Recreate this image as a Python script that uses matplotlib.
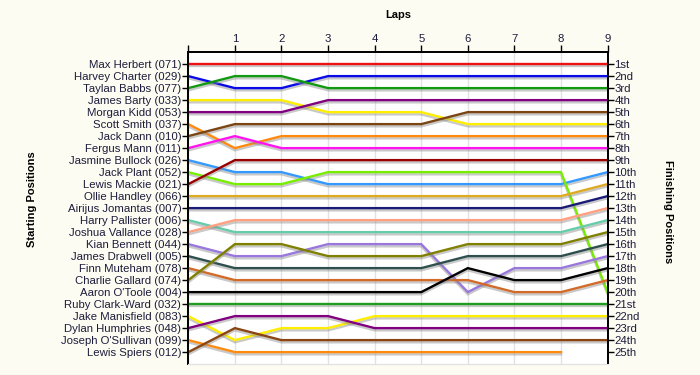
import numpy as np
import matplotlib
matplotlib.use("Agg")
import matplotlib.pyplot as plt
import matplotlib.patheffects as pe

# ---- data ----------------------------------------------------------------
laps = list(range(10))
drivers = ["Max Herbert (071)", "Harvey Charter (029)", "Taylan Babbs (077)",
           "James Barty (033)", "Morgan Kidd (053)", "Scott Smith (037)",
           "Jack Dann (010)", "Fergus Mann (011)", "Jasmine Bullock (026)",
           "Jack Plant (052)", "Lewis Mackie (021)", "Ollie Handley (066)",
           "Airijus Jomantas (007)", "Harry Pallister (006)",
           "Joshua Vallance (028)", "Kian Bennett (044)",
           "James Drabwell (005)", "Finn Muteham (078)",
           "Charlie Gallard (074)", "Aaron O'Toole (004)",
           "Ruby Clark-Ward (032)", "Jake Manisfield (083)",
           "Dylan Humphries (048)", "Joseph O'Sullivan (099)",
           "Lewis Spiers (012)"]

# position at the end of each lap (lap 0 = grid), None = did not finish lap
positions = [
    [1, 1, 1, 1, 1, 1, 1, 1, 1, 1],
    [2, 3, 3, 2, 2, 2, 2, 2, 2, 2],
    [3, 2, 2, 3, 3, 3, 3, 3, 3, 3],
    [4, 4, 4, 5, 5, 5, 6, 6, 6, 6],
    [5, 5, 5, 4, 4, 4, 4, 4, 4, 4],
    [6, 8, 7, 7, 7, 7, 7, 7, 7, 7],
    [7, 6, 6, 6, 6, 6, 5, 5, 5, 5],
    [8, 7, 8, 8, 8, 8, 8, 8, 8, 8],
    [9, 10, 10, 11, 11, 11, 11, 11, 11, 10],
    [10, 11, 11, 10, 10, 10, 10, 10, 10, 20],
    [11, 9, 9, 9, 9, 9, 9, 9, 9, 9],
    [12, 12, 12, 12, 12, 12, 12, 12, 12, 11],
    [13, 13, 13, 13, 13, 13, 13, 13, 13, 12],
    [14, 15, 15, 15, 15, 15, 15, 15, 15, 14],
    [15, 14, 14, 14, 14, 14, 14, 14, 14, 13],
    [16, 17, 17, 16, 16, 16, 20, 18, 18, 17],
    [17, 18, 18, 18, 18, 18, 17, 17, 17, 16],
    [18, 19, 19, 19, 19, 19, 19, 20, 20, 19],
    [19, 16, 16, 17, 17, 17, 16, 16, 16, 15],
    [20, 20, 20, 20, 20, 20, 18, 19, 19, 18],
    [21, 21, 21, 21, 21, 21, 21, 21, 21, 21],
    [22, 24, 23, 23, 22, 22, 22, 22, 22, 22],
    [23, 22, 22, 22, 23, 23, 23, 23, 23, 23],
    [24, 25, 25, 25, 25, 25, 25, 25, 25, None],
    [25, 23, 24, 24, 24, 24, 24, 24, 24, 24],
]
finish_labels = ["1st", "2nd", "3rd"] + ["%dth" % n for n in range(4, 21)] + \
                ["21st", "22nd", "23rd", "24th", "25th"]

colors = ["#EE1111", "#0A0AE6", "#129912", "#FFEE00", "#800080", "#FF8A10",
          "#7A4512", "#FF14EE", "#3399FF", "#77EE00", "#990000", "#DDAA22",
          "#1A1A77", "#66CCAA", "#FFA080", "#9977DD", "#2F4F4F", "#D26A28",
          "#808000", "#000000", "#1E9E1E", "#FFEE00", "#800080", "#FF8A10",
          "#8B4513"]

TXT = "#1C1C3C"
plt.rcParams["font.family"] = ["Liberation Sans", "DejaVu Sans"]

fig = plt.figure(figsize=(7, 3.75), dpi=100, facecolor="#FDFCF2")
ax = fig.add_axes([0.269, 0.029, 0.599, 0.832])
ax.set_facecolor("white")

shadow = [pe.SimpleLineShadow(offset=(0, -1.6), shadow_color="#888888", alpha=0.45),
          pe.Normal()]
for name, pos, col in zip(drivers, positions, colors):
    y = np.array([np.nan if p is None else p for p in pos], dtype=float)
    ax.plot(laps, y, color=col, lw=1.7, solid_joinstyle="miter",
            path_effects=shadow, zorder=3)

ax.set_xlim(0, 9)
ax.set_ylim(26, 0)
ax.xaxis.tick_top()
ax.set_xticks(laps)
ax.set_xticklabels([""] + [str(l) for l in laps[1:]])
ax.xaxis.set_label_position("top")
ax.set_xlabel("Laps", fontsize=8, fontweight="bold", color="black")
ax.xaxis.set_label_coords(0.5, 1.109)
ax.grid(axis="x", color="#E2E2E2", lw=1, zorder=0)

ax.set_yticks(range(1, 26))
ax.set_yticklabels(drivers, fontsize=8.2, color=TXT)
ax.set_ylabel("Starting Positions", fontsize=8, fontweight="bold")
ax.yaxis.set_label_coords(-0.36, 0.53)
ax.tick_params(axis="x", direction="out", length=5, width=1, labelsize=8.2,
               labelcolor=TXT, pad=1)
ax.tick_params(axis="y", direction="out", length=4, width=1, pad=1)

ax2 = ax.twinx()
ax2.set_ylim(26, 0)
ax2.set_yticks(range(1, 26))
ax2.set_yticklabels(finish_labels, fontsize=8.2, color=TXT)
ax2.tick_params(axis="y", direction="out", length=4, width=1, pad=1)
ax2.set_ylabel("Finishing Positions", fontsize=8, fontweight="bold",
               rotation=-90, va="center")
ax2.yaxis.set_label_coords(1.145, 0.49)

for a in (ax, ax2):
    for s in ("left", "right", "top"):
        a.spines[s].set_color("black")
        a.spines[s].set_linewidth(1.3)
    a.spines["bottom"].set_color("#E2E2E2")

fig.savefig("out.png", dpi=100, facecolor=fig.get_facecolor())
